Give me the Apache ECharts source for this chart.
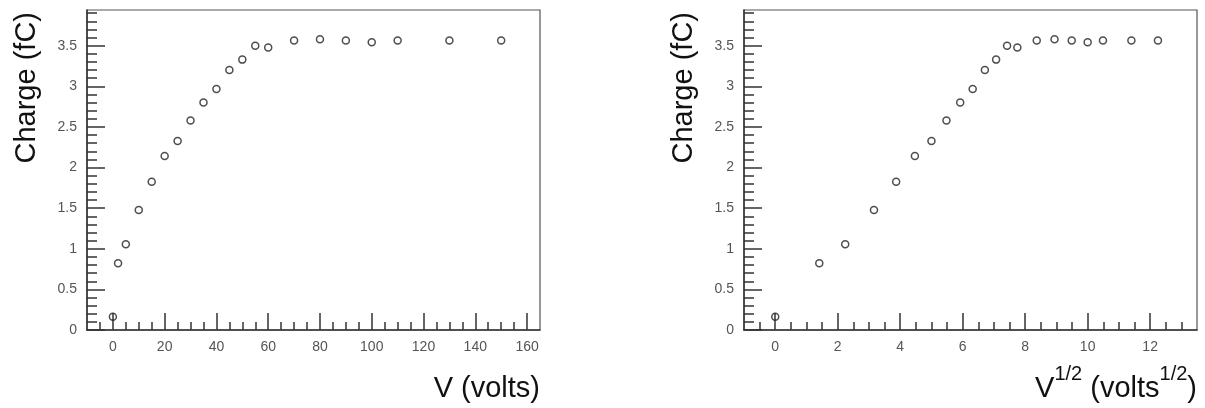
<!DOCTYPE html>
<html>
<head>
<meta charset="utf-8">
<script src="https://cdn.jsdelivr.net/npm/echarts@6/dist/echarts.min.js"></script>
<style>
  html, body { margin: 0; padding: 0; background: #fff; }
  #chart { width: 1205px; height: 408px; }
</style>
</head>
<body>
<div id="chart"></div>
<script>
// ---- data ----
const voltage = [0, 2, 5, 10, 15, 20, 25, 30, 35, 40, 45, 50, 55, 60, 70, 80, 90, 100, 110, 130, 150];
const sqrtVoltage = [0, 1.41, 2.24, 3.16, 3.87, 4.47, 5.00, 5.48, 5.92, 6.32, 6.71, 7.07, 7.42, 7.75, 8.37, 8.94, 9.49, 10.00, 10.49, 11.40, 12.25];
const charge = [0.164, 0.821, 1.055, 1.478, 1.826, 2.143, 2.328, 2.578, 2.800, 2.968, 3.202, 3.329, 3.500, 3.477, 3.563, 3.580, 3.563, 3.543, 3.563, 3.563, 3.563];

// ---- tick labels ----
const xTicksV = [0, 20, 40, 60, 80, 100, 120, 140, 160];
const xMinorV = [-5, 5, 10, 15, 25, 30, 35, 45, 50, 55, 65, 70, 75, 85, 90, 95, 105, 110, 115, 125, 130, 135, 145, 150, 155];
const xTicksSqrt = [0, 2, 4, 6, 8, 10, 12];
const xMinorSqrt = [-0.5, 0.5, 1, 1.5, 2.5, 3, 3.5, 4.5, 5, 5.5, 6.5, 7, 7.5, 8.5, 9, 9.5, 10.5, 11, 11.5, 12.5, 13];
const yTicks = [0, 0.5, 1, 1.5, 2, 2.5, 3, 3.5];
const yMinor = [0.1, 0.2, 0.3, 0.4, 0.6, 0.7, 0.8, 0.9, 1.1, 1.2, 1.3, 1.4, 1.6, 1.7, 1.8, 1.9,
                2.1, 2.2, 2.3, 2.4, 2.6, 2.7, 2.8, 2.9, 3.1, 3.2, 3.3, 3.4, 3.6, 3.7, 3.8, 3.9];

const FONT = '"Liberation Sans", Arial, Helvetica, sans-serif';
const AX = '#333';
const LBL = '#555';

function mainX(grid, min, max, ticks, name) {
  return {
    type: 'value', gridIndex: grid, min: min, max: max, position: 'bottom',
    axisLine: { show: true, onZero: false, lineStyle: { color: AX, width: 1.5 } },
    axisTick: { show: true, inside: true, length: 17, customValues: ticks, lineStyle: { color: AX, width: 1.5 } },
    axisLabel: { show: true, customValues: ticks, margin: 10, fontSize: 14, color: LBL, fontFamily: FONT },
    splitLine: { show: false },
    name: name, nameLocation: 'end', nameGap: 0, nameMoveOverlap: false,
    nameTextStyle: {
      align: 'right', verticalAlign: 'top', padding: [34, 0, 0, 0],
      fontSize: 29, lineHeight: 49, color: '#111', fontFamily: FONT,
      rich: {
        b: { fontSize: 29, lineHeight: 49, color: '#111', fontFamily: FONT },
        s: { fontSize: 20, lineHeight: 20, verticalAlign: 'top', color: '#111', fontFamily: FONT }
      }
    }
  };
}
function minorX(grid, min, max, ticks) {
  return {
    type: 'value', gridIndex: grid, min: min, max: max, position: 'bottom',
    axisLine: { show: false, onZero: false },
    axisTick: { show: true, inside: true, length: 8, customValues: ticks, lineStyle: { color: AX, width: 1.5 } },
    axisLabel: { show: false },
    splitLine: { show: false }
  };
}
function mainY(grid) {
  return {
    type: 'value', gridIndex: grid, min: 0, max: 3.94, position: 'left',
    axisLine: { show: true, onZero: false, lineStyle: { color: AX, width: 1.5 } },
    axisTick: { show: true, inside: true, length: 18, customValues: yTicks, lineStyle: { color: AX, width: 1.5 } },
    axisLabel: { show: true, customValues: yTicks, margin: 10, fontSize: 14, color: LBL, fontFamily: FONT },
    splitLine: { show: false },
    name: 'Charge (fC)', nameLocation: 'end', nameRotate: 90, nameGap: -2, nameMoveOverlap: false,
    nameTextStyle: {
      align: 'right', verticalAlign: 'bottom', padding: [0, 0, 46, 0],
      fontSize: 29, color: '#111', fontFamily: FONT
    }
  };
}
function minorY(grid) {
  return {
    type: 'value', gridIndex: grid, min: 0, max: 3.94, position: 'left',
    axisLine: { show: false, onZero: false },
    axisTick: { show: true, inside: true, length: 10, customValues: yMinor, lineStyle: { color: AX, width: 1.5 } },
    axisLabel: { show: false },
    splitLine: { show: false }
  };
}

const marker = {
  symbol: 'circle', symbolSize: 7,
  itemStyle: { color: 'rgba(255,255,255,0)', borderColor: '#222', borderWidth: 1.5 }
};

const gridBase = { top: 10, width: 453, height: 320, containLabel: false, outerBoundsMode: 'none' };
const option = {
  animation: false,
  backgroundColor: '#fff',
  grid: [
    Object.assign({ left: 87, show: true, borderColor: '#555', borderWidth: 1.2, backgroundColor: 'transparent' }, gridBase),
    Object.assign({ left: 87, show: false }, gridBase),
    Object.assign({ left: 744, show: true, borderColor: '#555', borderWidth: 1.2, backgroundColor: 'transparent' }, gridBase),
    Object.assign({ left: 744, show: false }, gridBase)
  ],
  xAxis: [
    mainX(0, -10, 165, xTicksV, 'V (volts)'),
    minorX(1, -10, 165, xMinorV),
    mainX(2, -1, 13.5, xTicksSqrt, '{b|V}{s|1/2}{b| (volts}{s|1/2}{b|)}'),
    minorX(3, -1, 13.5, xMinorSqrt)
  ],
  yAxis: [mainY(0), minorY(1), mainY(2), minorY(3)],
  series: [
    Object.assign({ type: 'scatter', xAxisIndex: 0, yAxisIndex: 0, z: 5,
      data: voltage.map((v, i) => [v, charge[i]]) }, marker),
    Object.assign({ type: 'scatter', xAxisIndex: 2, yAxisIndex: 2, z: 5,
      data: sqrtVoltage.map((v, i) => [v, charge[i]]) }, marker)
  ]
};

const chart = echarts.init(document.getElementById('chart'), null, { renderer: 'canvas' });
chart.setOption(option);
</script>
</body>
</html>
